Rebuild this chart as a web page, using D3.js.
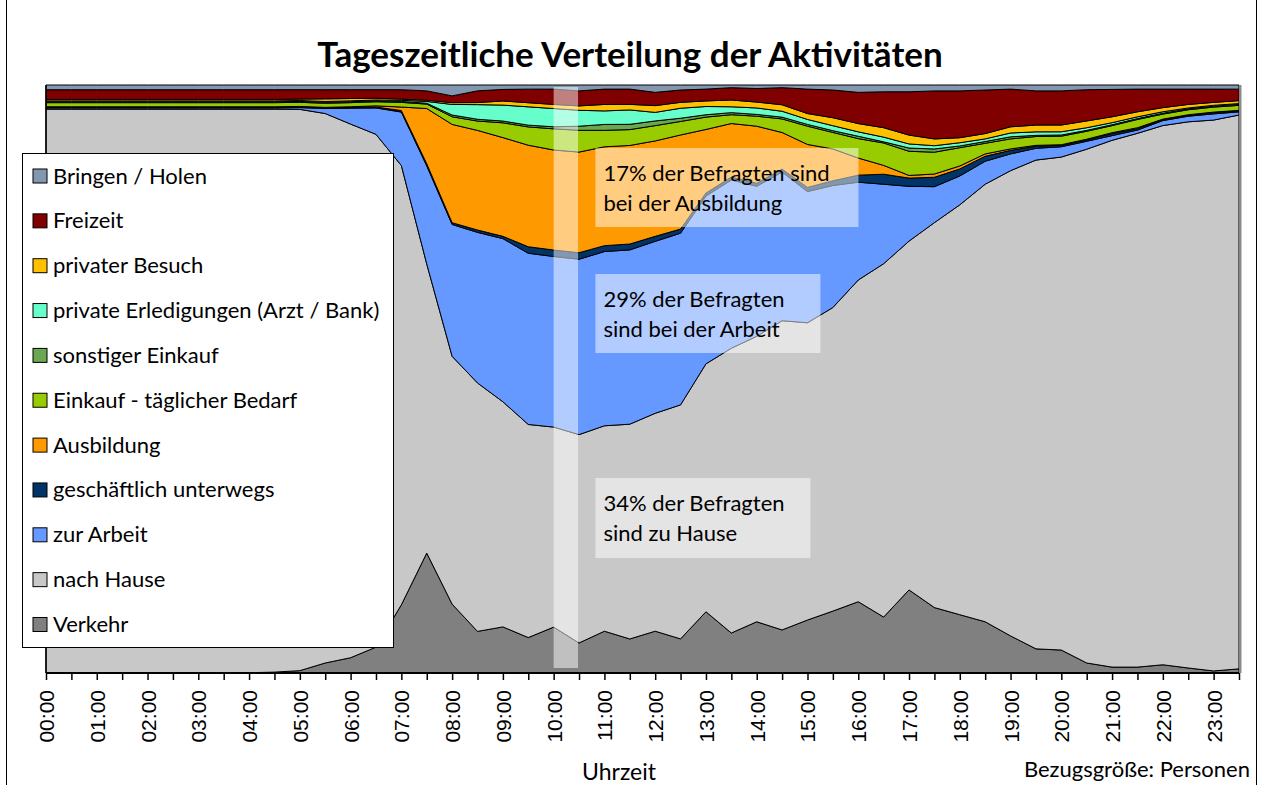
<!DOCTYPE html>
<html>
<head>
<meta charset="utf-8">
<script src="https://cdn.jsdelivr.net/npm/d3@7"></script>
<style>
  body { margin: 0; background: #fff; }
  svg { display: block; font-family: Lato, "Open Sans", sans-serif; }
</style>
</head>
<body>
<svg id="chart" width="1261" height="785"></svg>
<script>
// half hour steps
var times = ["00:00","00:30","01:00","01:30","02:00","02:30","03:00","03:30","04:00","04:30",
  "05:00","05:30","06:00","06:30","07:00","07:30","08:00","08:30","09:00","09:30",
  "10:00","10:30","11:00","11:30","12:00","12:30","13:00","13:30","14:00","14:30",
  "15:00","15:30","16:00","16:30","17:00","17:30","18:00","18:30","19:00","19:30",
  "20:00","20:30","21:00","21:30","22:00","22:30","23:00","23:30"];

// shares in percent
var verkehr = [0.05,0.05,0.05,0.05,0.05,0.05,0.05,0.05,0.05,0.15,
  0.4,1.7,2.6,4.4,11.6,20.4,11.7,7.1,7.8,6.0,
  7.8,5.1,7.1,5.8,7.1,5.8,10.4,6.8,8.7,7.3,
  9.0,10.5,12.1,9.5,14.1,11.1,9.9,8.7,6.3,4.1,
  3.9,1.7,1.0,1.0,1.4,0.85,0.35,0.7];
var nachHause = [95.8,95.8,95.8,95.8,95.8,95.8,95.8,95.8,95.8,95.7,
  95.6,93.4,90.8,87.3,74.7,49.2,42.1,42.4,38.1,36.1,
  34.0,35.4,34.9,36.6,37.0,39.8,42.1,48.4,48.5,52.4,
  50.5,51.5,54.6,60.0,59.2,65.3,69.6,74.3,79.0,83.0,
  83.8,87.2,89.5,90.6,91.7,92.7,93.5,93.9];
var zurArbeit = [0.2,0.2,0.2,0.2,0.2,0.2,0.2,0.2,0.2,0.2,
  0.3,0.85,2.7,4.5,9.1,16.7,22.4,25.7,27.6,29.0,
  29.0,29.8,29.6,29.7,29.2,29.2,28.5,28.6,25.5,25.2,
  22.3,20.7,16.6,13.5,9.3,6.1,4.9,3.9,2.85,2.0,
  1.75,1.35,0.8,0.55,0.85,0.95,1.05,0.55];
var geschaeftlich = [0.1,0.1,0.1,0.1,0.1,0.1,0.1,0.1,0.1,0.1,
  0.1,0.1,0.15,0.15,0.25,0.35,0.3,0.4,0.4,1.1,
  1.1,1.1,1.0,1.0,0.85,0.7,0.5,0.5,0.5,0.5,
  0.7,0.8,1.2,1.7,1.4,1.6,1.2,0.85,0.6,0.35,
  0.25,0.25,0.35,0.25,0.15,0.15,0.2,0.15];
var ausbildung = [0.1,0.1,0.1,0.1,0.1,0.1,0.1,0.1,0.1,0.1,
  0.1,0.1,0.1,0.2,0.6,9.4,16.7,17.0,16.7,17.2,
  17.0,17.1,16.8,16.8,16.2,16.0,10.8,9.1,9.7,6.2,
  7.3,5.4,2.9,1.5,0.45,0.55,0.5,0.4,0.25,0.15,
  0.1,0.1,0.15,0.15,0.1,0.1,0.1,0.1];
var einkaufTaeglich = [0.7,0.7,0.7,0.7,0.7,0.7,0.7,0.7,0.7,0.7,
  0.7,0.7,0.7,0.7,0.8,0.75,1.3,1.6,2.5,3.1,
  3.6,3.7,2.8,2.7,2.6,2.3,2.1,1.5,1.7,2.3,
  3.1,2.8,3.3,3.8,4.1,3.7,3.1,1.8,1.7,1.5,
  1.45,1.35,1.2,1.4,0.85,0.85,0.85,0.85];
var sonstigerEinkauf = [0.15,0.15,0.15,0.15,0.15,0.15,0.15,0.15,0.15,0.15,
  0.15,0.15,0.15,0.15,0.15,0.15,0.3,0.3,0.3,0.3,
  0.35,0.7,1.0,0.9,0.8,0.55,0.4,0.35,0.3,0.3,
  0.3,0.3,0.4,0.2,0.55,0.55,0.3,0.3,0.35,0.2,
  0.2,0.15,0.15,0.15,0.15,0.15,0.15,0.15];
var erledigungen = [0.15,0.15,0.15,0.15,0.15,0.15,0.15,0.15,0.15,0.15,
  0.15,0.15,0.15,0.15,0.2,0.3,1.8,2.5,2.7,3.1,
  3.1,2.7,2.3,2.45,1.45,1.7,1.4,1.0,1.1,1.0,
  0.85,0.85,0.75,0.8,0.7,0.55,0.55,0.45,0.65,0.6,
  0.55,0.45,0.35,0.3,0.25,0.15,0.15,0.15];
var besuch = [0.25,0.25,0.25,0.25,0.25,0.25,0.25,0.25,0.25,0.25,
  0.25,0.45,0.4,0.3,0.2,0.2,0.3,0.35,0.7,0.7,
  0.7,0.75,1.1,0.95,1.15,1.0,0.95,1.15,1.0,1.1,
  1.0,1.35,1.4,1.6,1.5,1.15,0.85,0.9,1.05,1.15,
  1.15,1.15,1.0,0.85,0.7,0.6,0.5,0.5];
var freizeit = [1.65,1.65,1.65,1.65,1.65,1.65,1.65,1.65,1.65,1.65,
  1.6,1.55,1.5,1.45,1.6,1.6,1.15,2.0,1.95,2.3,
  2.6,2.55,2.6,2.6,2.25,2.1,2.0,2.1,2.3,2.9,
  4.15,4.7,5.3,6.1,7.35,8.15,7.95,7.4,6.4,5.8,
  5.8,5.3,4.65,3.85,3.15,2.6,2.25,1.95];
var bringenHolen = [0.8,0.8,0.8,0.8,0.8,0.8,0.8,0.8,0.8,0.8,
  0.8,0.8,0.8,0.8,0.8,1.0,1.85,1.0,0.75,0.7,
  0.7,1.0,0.7,0.7,1.25,0.85,0.7,0.45,0.6,0.45,
  0.7,0.85,1.25,1.15,1.15,1.0,1.0,0.85,0.7,1.0,
  1.0,0.8,0.75,0.7,0.7,0.7,0.7,0.7];

// bottom to top
var seriesNames = ["Verkehr", "nach Hause", "zur Arbeit", "geschäftlich unterwegs", "Ausbildung",
  "Einkauf - täglicher Bedarf", "sonstiger Einkauf", "private Erledigungen (Arzt / Bank)",
  "privater Besuch", "Freizeit", "Bringen / Holen"];
var seriesValues = [verkehr, nachHause, zurArbeit, geschaeftlich, ausbildung, einkaufTaeglich,
  sonstigerEinkauf, erledigungen, besuch, freizeit, bringenHolen];
var seriesColors = ["#808080", "#c8c8c8", "#6699ff", "#003366", "#ff9900",
  "#99cc00", "#6aa84f", "#66ffcc", "#ffc000", "#800000", "#8497b0"];

var noteLines = [
  ["17% der Befragten sind", "bei der Ausbildung"],
  ["29% der Befragten", "sind bei der Arbeit"],
  ["34% der Befragten", "sind zu Hause"]
];

var svg = d3.select("#chart");
var width = 1261, height = 785;
// note: "top" is taken by window.top, so plot* names
var plotLeft = 46, plotRight = 1239, plotTop = 85, plotBottom = 673;

svg.append("rect").attr("width", width).attr("height", height).attr("fill", "#fff");
// outer frame (cut off at top and bottom)
svg.append("rect").attr("x", 6.5).attr("y", -5).attr("width", 1250).attr("height", height + 10)
  .attr("fill", "none").attr("stroke", "#000").attr("stroke-width", 1);

var rows = times.map(function(t, i) {
  var r = { time: t };
  seriesNames.forEach(function(n, k) { r[n] = seriesValues[k][i]; });
  return r;
});

var x = d3.scalePoint().domain(times).range([plotLeft, plotRight]);
var y = d3.scaleLinear().domain([0, 1]).range([plotBottom, plotTop]);

var stack = d3.stack().keys(seriesNames).offset(d3.stackOffsetExpand);
var layers = stack(rows);

var area = d3.area()
  .x(function(d) { return x(d.data.time); })
  .y0(function(d) { return y(d[0]); })
  .y1(function(d) { return y(d[1]); });

svg.append("g").selectAll("path")
  .data(layers)
  .enter().append("path")
  .attr("d", area)
  .attr("fill", function(d, i) { return seriesColors[i]; })
  .attr("stroke", "#000")
  .attr("stroke-width", 1)
  .attr("stroke-linejoin", "round");

// grey right edge of the plot area
svg.append("line").attr("x1", plotRight + 1.5).attr("x2", plotRight + 1.5)
  .attr("y1", plotTop).attr("y2", plotBottom)
  .attr("stroke", "#8c8c8c").attr("stroke-width", 2);

// highlighted half hour 10:00 - 10:30
svg.append("rect")
  .attr("x", x("10:00"))
  .attr("y", plotTop + 2)
  .attr("width", x("10:30") - x("10:00") - 1)
  .attr("height", plotBottom - plotTop - 7)
  .attr("fill", "#fff").attr("fill-opacity", 0.5);

// x axis
var xAxis = d3.axisBottom(x)
  .tickSize(7)
  .tickFormat(function(d) { return d.slice(3) === "00" ? d : ""; });

var gx = svg.append("g").attr("transform", "translate(0," + plotBottom + ")").call(xAxis);
gx.select(".domain").attr("stroke", "#000").attr("stroke-width", 2)
  .attr("d", "M" + plotLeft + ",0H" + plotRight);
gx.selectAll(".tick line").attr("stroke", "#000").attr("stroke-width", 1.5);
gx.selectAll(".tick text")
  .attr("transform", "translate(7.5,17) rotate(-90)")
  .attr("x", 0).attr("y", 0).attr("dy", 0)
  .attr("text-anchor", "end")
  .style("font-family", "'Liberation Sans', Arial, sans-serif")
  .style("font-size", "21px")
  .attr("fill", "#000");

// left edge
svg.append("line").attr("x1", plotLeft).attr("x2", plotLeft).attr("y1", plotTop).attr("y2", plotBottom)
  .attr("stroke", "#000").attr("stroke-width", 1.5);

// annotation boxes
var noteBoxes = [
  { x: x("11:00") - 9, y: 148, w: 263, h: 79 },
  { x: x("11:00") - 9, y: 274, w: 225, h: 79 },
  { x: x("11:00") - 9, y: 478, w: 215, h: 80 }
];
noteBoxes.forEach(function(b, i) {
  svg.append("rect").attr("x", b.x).attr("y", b.y).attr("width", b.w).attr("height", b.h)
    .attr("fill", "#fff").attr("fill-opacity", 0.5);
  var t = svg.append("text").attr("x", b.x + 8).attr("y", b.y + 33)
    .style("font-size", "22px").attr("fill", "#000");
  noteLines[i].forEach(function(line, j) {
    t.append("tspan").attr("x", b.x + 8).attr("dy", j === 0 ? 0 : 30).text(line);
  });
});

// legend
var legend = svg.append("g");
legend.append("rect").attr("x", 22.5).attr("y", 153.5).attr("width", 371).attr("height", 494)
  .attr("fill", "#fff").attr("stroke", "#000").attr("stroke-width", 1);

var legendOrder = seriesNames.slice().reverse();
legendOrder.forEach(function(n, i) {
  var k = seriesNames.indexOf(n);
  var ly = 176 + i * 44.85;
  legend.append("rect").attr("x", 33).attr("y", ly - 7).attr("width", 14).attr("height", 14)
    .attr("fill", seriesColors[k]).attr("stroke", "#000").attr("stroke-width", 1);
  legend.append("text").attr("x", 53).attr("y", ly + 7.5)
    .style("font-size", "22px").attr("fill", "#000").text(n);
});

// title and axis captions
svg.append("text").attr("x", 630).attr("y", 67).attr("text-anchor", "middle")
  .style("font-size", "35px").style("font-weight", "bold").text("Tageszeitliche Verteilung der Aktivitäten");

svg.append("text").attr("x", 619).attr("y", 780).attr("text-anchor", "middle")
  .style("font-size", "23px").text("Uhrzeit");

svg.append("text").attr("x", 1250).attr("y", 777).attr("text-anchor", "end")
  .style("font-size", "22px").text("Bezugsgröße: Personen");
</script>
</body>
</html>
